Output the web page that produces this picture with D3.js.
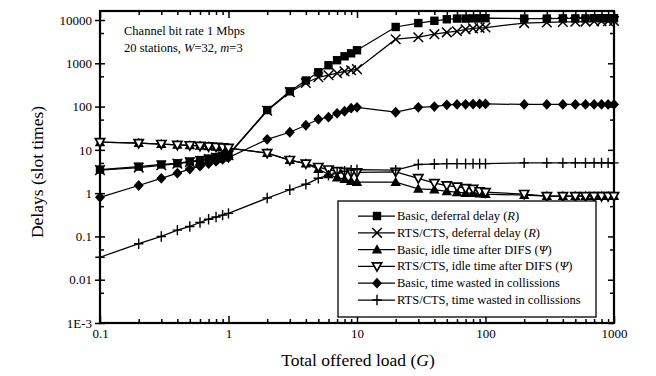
<!DOCTYPE html>
<html>
<head>
<meta charset="utf-8">
<script src="https://cdn.jsdelivr.net/npm/d3@7"></script>
<style>
  html, body { margin: 0; padding: 0; background: #fff; }
  svg { display: block; }
  text { font-family: "Liberation Serif", "Times New Roman", serif; fill: #000; }
</style>
</head>
<body>
<svg id="chart" width="656" height="376"></svg>
<script>
// Offered load values (x) shared by every series
const load = [0.1,0.2,0.3,0.4,0.5,0.6,0.7,0.8,0.9,1,
              2,3,4,5,6,7,8,9,10,
              20,30,40,50,60,70,80,90,100,
              200,300,400,500,600,700,800,900,1000];

const basicDeferral = [3.5,4.1,4.6,4.9,5.4,5.8,6.3,6.8,7.3,7.8,
                       83,225,400,620,900,1180,1450,1700,2000,
                       6900,8500,9600,10400,10800,10800,10900,10900,11000,
                       10800,10800,10900,10900,10900,11000,11000,11000,11000];
const rtsDeferral = [3.4,3.9,4.4,4.8,5.2,5.6,6.1,6.6,7.0,7.5,
                     80,215,350,475,530,590,650,690,730,
                     3600,4000,4700,5200,5500,6100,6400,6600,6700,
                     8500,8800,9000,9100,9200,9300,9400,9400,9500];
const basicIdle = [15,14.3,13.6,13,12.7,12.3,12,11.7,11.4,11,
                   8.4,5.8,4.8,3.6,2.7,2.3,2.1,1.9,1.8,
                   1.8,1.25,1.2,1.1,1.05,1.0,1.0,0.98,0.95,
                   0.9,0.85,0.85,0.85,0.85,0.85,0.85,0.85,0.85];
const rtsIdle = [15,14.3,13.6,13,12.7,12.3,12,11.7,11.4,11,
                 8.4,5.8,4.8,4.0,3.5,3.2,3.1,3.0,3.0,
                 3.1,2.2,1.7,1.5,1.4,1.3,1.25,1.1,1.05,
                 0.95,0.85,0.85,0.85,0.85,0.85,0.85,0.85,0.85];
const basicCollision = [0.8,1.5,2.2,2.9,3.6,4.2,4.8,5.4,6.0,6.6,
                        17.5,25.5,37,51,57,70,78,92,96,
                        74,96,100,110,112,113,114,115,115,
                        112,112,112,112,112,112,112,112,112];
const rtsCollision = [0.033,0.068,0.1,0.14,0.17,0.21,0.25,0.28,0.31,0.34,
                      0.77,1.2,1.6,2.2,2.6,2.9,3.2,3.4,3.5,
                      3.4,4.6,4.7,4.8,4.8,4.8,4.8,4.8,4.8,
                      5.0,5.0,5.0,5.0,5.0,5.0,5.0,5.0,5.0];

const seriesNames = [
  [{t:"Basic, deferral delay ("},{t:"R",i:true},{t:")"}],
  [{t:"RTS/CTS, deferral delay ("},{t:"R",i:true},{t:")"}],
  [{t:"Basic, idle time after DIFS ("},{t:"Ψ",i:true},{t:")"}],
  [{t:"RTS/CTS, idle time after DIFS ("},{t:"Ψ",i:true},{t:")"}],
  [{t:"Basic, time wasted in collissions"}],
  [{t:"RTS/CTS, time wasted in collissions"}]
];
const seriesMarkers = ["square","cross","triUp","triDown","diamond","plus"];
const seriesValues = [basicDeferral, rtsDeferral, basicIdle, rtsIdle, basicCollision, rtsCollision];

const xMajor = [0.1, 1, 10, 100, 1000];
const xMajorLabels = ["0.1", "1", "10", "100", "1000"];
const yMajor = [1e-3, 0.01, 0.1, 1, 10, 100, 1000, 10000];
const yMajorLabels = ["1E-3", "0.01", "0.1", "1", "10", "100", "1000", "10000"];

const svg = d3.select("#chart");
const plotLeft = 100, plotRight = 614, plotTop = 11, plotBottom = 323;

const x = d3.scaleLog().domain([0.1, 1000]).range([plotLeft, plotRight]);
const y = d3.scaleLog().domain([1e-3, Math.pow(10, 4.208)]).range([plotBottom, plotTop]);

// Marker shapes, drawn in pixel units around (0,0)
function marker(g, kind) {
  const s = g.append("g");
  switch (kind) {
    case "square":
      s.append("rect").attr("x", -4.2).attr("y", -4.2).attr("width", 8.4).attr("height", 8.4).attr("fill", "#000");
      break;
    case "cross":
      s.append("path").attr("d", "M-4.8,-4.8L4.8,4.8M-4.8,4.8L4.8,-4.8").attr("stroke", "#000").attr("stroke-width", 1.5).attr("fill", "none");
      break;
    case "triUp":
      s.append("path").attr("d", "M0,-5.4L5.2,3.9L-5.2,3.9Z").attr("fill", "#000");
      break;
    case "triDown":
      s.append("path").attr("d", "M-4.6,-3.6L4.6,-3.6L0,4.7Z").attr("fill", "#fff").attr("stroke", "#000").attr("stroke-width", 1.7);
      break;
    case "diamond":
      s.append("path").attr("d", "M0,-5.4L5,0L0,5.4L-5,0Z").attr("fill", "#000");
      break;
    case "plus":
      s.append("path").attr("d", "M-4.7,0L4.7,0M0,-5.2L0,5.2").attr("stroke", "#000").attr("stroke-width", 1.4).attr("fill", "none");
      break;
  }
  return s;
}

// Minor tick values on the log axes
const xMinor = [];
[0.1, 1, 10, 100].forEach(d => { for (let k = 2; k <= 9; k++) xMinor.push(d * k); });
const yMinor = [];
[1e-3, 0.01, 0.1, 1, 10, 100, 1000].forEach(d => yMinor.push(d * 5));

const axisG = svg.append("g");

// Bottom axis: labels and inward ticks
axisG.append("g").attr("transform", `translate(0,${plotBottom})`)
  .call(d3.axisBottom(x).tickValues(xMajor).tickSize(-7).tickPadding(6)
    .tickFormat((d, i) => xMajorLabels[i]));
axisG.append("g").attr("transform", `translate(0,${plotBottom})`)
  .call(d3.axisBottom(x).tickValues(xMinor).tickSize(-4).tickFormat(""));

// Top axis: inward ticks only
axisG.append("g").attr("transform", `translate(0,${plotTop})`)
  .call(d3.axisTop(x).tickValues(xMajor).tickSize(-7).tickFormat(""));
axisG.append("g").attr("transform", `translate(0,${plotTop})`)
  .call(d3.axisTop(x).tickValues(xMinor).tickSize(-4).tickFormat(""));

// Left axis: labels, major ticks crossing the frame, inward minor ticks
axisG.append("g").attr("transform", `translate(${plotLeft},0)`)
  .call(d3.axisLeft(y).tickValues(yMajor).tickSize(5).tickPadding(3)
    .tickFormat((d, i) => yMajorLabels[i]));
axisG.append("g").attr("transform", `translate(${plotLeft},0)`)
  .call(d3.axisLeft(y).tickValues(yMajor).tickSize(-5).tickFormat(""));
axisG.append("g").attr("transform", `translate(${plotLeft},0)`)
  .call(d3.axisLeft(y).tickValues(yMinor).tickSize(-4).tickFormat(""));

// Right axis: inward ticks
axisG.append("g").attr("transform", `translate(${plotRight},0)`)
  .call(d3.axisRight(y).tickValues(yMajor).tickSize(-6).tickFormat(""));
axisG.append("g").attr("transform", `translate(${plotRight},0)`)
  .call(d3.axisRight(y).tickValues(yMinor).tickSize(-4).tickFormat(""));

axisG.selectAll(".domain").remove();
axisG.selectAll(".tick line").attr("stroke", "#000").attr("stroke-width", 1.5);
axisG.selectAll(".tick text").attr("font-size", 13)
  .attr("font-family", "'Liberation Serif', serif").attr("fill", "#000");

// Plot frame
svg.append("rect").attr("x", plotLeft).attr("y", plotTop)
  .attr("width", plotRight - plotLeft).attr("height", plotBottom - plotTop)
  .attr("fill", "none").attr("stroke", "#000").attr("stroke-width", 2.2);

// Series lines and markers
const line = d3.line().x(d => x(d[0])).y(d => y(d[1]));
const plotG = svg.append("g");
seriesValues.forEach((vals) => {
  const pts = load.map((g, i) => [g, vals[i]]);
  plotG.append("path").datum(pts).attr("d", line)
    .attr("fill", "none").attr("stroke", "#000").attr("stroke-width", 1.25);
});
seriesValues.forEach((vals, si) => {
  load.forEach((g, i) => {
    marker(plotG, seriesMarkers[si]).attr("transform", `translate(${x(g)},${y(vals[i])})`);
  });
});

// Annotation inside the plot
const note = svg.append("g").attr("font-size", 12.5);
note.append("text").attr("x", 124).attr("y", 35).text("Channel bit rate 1 Mbps");
const n2 = note.append("text").attr("x", 124).attr("y", 52);
n2.append("tspan").text("20 stations, ");
n2.append("tspan").attr("font-style", "italic").text("W");
n2.append("tspan").text("=32, ");
n2.append("tspan").attr("font-style", "italic").text("m");
n2.append("tspan").text("=3");

// Legend
const lg = svg.append("g");
lg.append("rect").attr("x", 338).attr("y", 201).attr("width", 258).attr("height", 116)
  .attr("fill", "#fff").attr("stroke", "#000").attr("stroke-width", 1.3);
seriesNames.forEach((parts, i) => {
  const cy = 216 + i * 16.8;
  lg.append("line").attr("x1", 358).attr("x2", 395).attr("y1", cy).attr("y2", cy)
    .attr("stroke", "#000").attr("stroke-width", 1.25);
  marker(lg, seriesMarkers[i]).attr("transform", `translate(377,${cy})`);
  const t = lg.append("text").attr("x", 397).attr("y", cy + 4).attr("font-size", 12.5);
  parts.forEach(p => {
    const ts = t.append("tspan").text(p.t);
    if (p.i) ts.attr("font-style", "italic");
  });
});

// Axis titles
const xt = svg.append("text").attr("x", 358).attr("y", 366).attr("text-anchor", "middle").attr("font-size", 17.5);
xt.append("tspan").text("Total offered load (");
xt.append("tspan").attr("font-style", "italic").text("G");
xt.append("tspan").text(")");

svg.append("text").attr("transform", "translate(43,172) rotate(-90)")
  .attr("text-anchor", "middle").attr("font-size", 17.5).text("Delays (slot times)");
</script>
</body>
</html>
